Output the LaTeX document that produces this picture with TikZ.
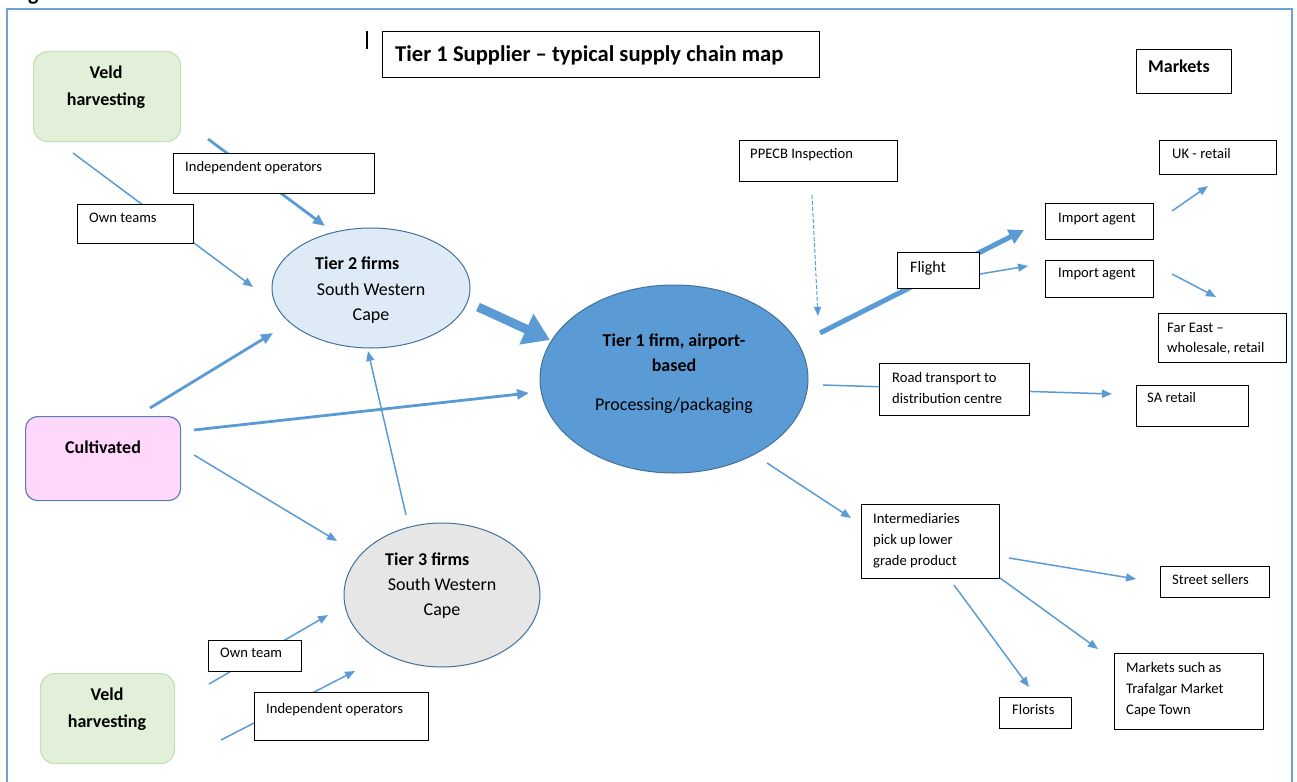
\documentclass[tikz,border=0pt]{standalone}
\usepackage{fontspec}
\setmainfont{Carlito}
\usetikzlibrary{arrows.meta,shapes.geometric}
\definecolor{arrblue}{HTML}{5B9BD5}
\definecolor{framec}{HTML}{6AA2DA}
\definecolor{ellborder}{HTML}{41719C}
\definecolor{tTwofill}{HTML}{DEEBF7}
\definecolor{tThreefill}{HTML}{E7E6E6}
\definecolor{tOnefill}{HTML}{5B9BD5}
\definecolor{veldfill}{HTML}{E2EFD9}
\definecolor{veldborder}{HTML}{C5E0B4}
\definecolor{cultfill}{HTML}{FFD7FA}
\definecolor{cultborder}{HTML}{5B7DB1}
\newcommand{\drawbox}[6][]{\node[box,#1,anchor=north west,minimum width={#5-#3},minimum height={#6-#4}] (#2) at (#3,#4) {};}
\begin{document}
\begin{tikzpicture}[x=1pt,y=-1pt,
  box/.style={draw=black,line width=1.3pt,fill=white,inner sep=0pt},
  rbox/.style={line width=1.2pt,rounded corners=14pt},
  ell/.style={ellipse,draw=ellborder,line width=1pt,inner sep=0pt},
  txt/.style={inner sep=0pt,align=left,anchor=north west,font=\fontsize{14.6}{21}\selectfont},
  midb/.style={inner sep=0pt,align=center,font=\bfseries\fontsize{18}{27}\selectfont},
  midr/.style={inner sep=0pt,align=center,font=\fontsize{18}{25}\selectfont},
  thin/.style={draw=arrblue,line width=1.5pt,-{Triangle[length=10pt,width=8pt]}},
  medium/.style={draw=arrblue,line width=2.8pt,-{Triangle[length=12pt,width=10pt]}},
  heavy/.style={draw=arrblue,line width=5pt,-{Triangle[length=15pt,width=15pt]}},
  huge/.style={draw=arrblue,line width=9pt,-{Triangle[length=26pt,width=32pt]}},
  dashedarr/.style={draw=arrblue,line width=1pt,dash pattern=on 4pt off 2pt,-{Triangle[length=9pt,width=7pt]}}
]
\useasboundingbox (0,0) rectangle (1297,781);
% cropped caption fragment and frame
\node[inner sep=0pt,anchor=base west,font=\bfseries\fontsize{22}{26}\selectfont] (gfrag) at (28,0.5) {g};
\draw[framec,line width=2pt] (7,9) rectangle (1292,800);
\draw[line width=1.2pt] (367,31) -- (367,49);

% connector end points
\coordinate (a1s) at (73,153);   \coordinate (a1e) at (253,287);
\coordinate (a2s) at (208,139);  \coordinate (a2e) at (325,226);
\coordinate (a3s) at (150,408);  \coordinate (a3e) at (273,333);
\coordinate (a4s) at (194,430);  \coordinate (a4e) at (529,393);
\coordinate (a5s) at (194,455);  \coordinate (a5e) at (337,541);
\coordinate (a6s) at (406,515);  \coordinate (a6e) at (368,351);
\coordinate (a7s) at (478,307);  \coordinate (a7e) at (550,340);
\coordinate (a8s) at (209,684);  \coordinate (a8e) at (328,615);
\coordinate (a9s) at (221,740);  \coordinate (a9e) at (355,671);
\coordinate (a10s) at (812,195); \coordinate (a10e) at (818,316);
\coordinate (a11s) at (820,333); \coordinate (a11e) at (1024,230);
\coordinate (a12s) at (980,274); \coordinate (a12e) at (1028,266);
\coordinate (a13s) at (1172,211); \coordinate (a13e) at (1208,186);
\coordinate (a14s) at (1172,274); \coordinate (a14e) at (1216,297);
\coordinate (a15s) at (823,385); \coordinate (a15e) at (1112,394);
\coordinate (a16s) at (767,463); \coordinate (a16e) at (851,518);
\coordinate (a17s) at (1009,558); \coordinate (a17e) at (1136,579);
\coordinate (a18s) at (1000,578); \coordinate (a18e) at (1098,649);
\coordinate (a19s) at (954,585); \coordinate (a19e) at (1029,687);

% connectors (drawn below the boxes)
\draw[thin] (a1s) -- (a1e);
\draw[medium] (a2s) -- (a2e);
\draw[medium] (a3s) -- (a3e);
\draw[medium] (a4s) -- (a4e);
\draw[thin] (a5s) -- (a5e);
\draw[huge] (a7s) -- (a7e);
\draw[thin] (a8s) -- (a8e);
\draw[thin] (a9s) -- (a9e);
\draw[dashedarr] (a10s) -- (a10e);
\draw[heavy] (a11s) -- (a11e);
\draw[thin] (a12s) -- (a12e);
\draw[thin] (a13s) -- (a13e);
\draw[thin] (a14s) -- (a14e);
\draw[thin] (a15s) -- (a15e);
\draw[thin] (a16s) -- (a16e);
\draw[thin] (a17s) -- (a17e);
\draw[thin] (a18s) -- (a18e);
\draw[thin] (a19s) -- (a19e);

% ellipses
\node[ell,fill=tTwofill,minimum width=198,minimum height=120] (tier2) at (371,288) {};
\node[ell,fill=tThreefill,minimum width=196,minimum height=144] (tier3) at (442,595) {};
\node[ell,fill=tOnefill,minimum width=268,minimum height=188] (tier1) at (674,379) {};
\draw[thin] (a6s) -- (a6e);

% rounded source boxes
\drawbox[rbox,draw=veldborder,fill=veldfill]{veld1}{33}{51}{180}{141}
\drawbox[rbox,draw=veldborder,fill=veldfill]{veld2}{40}{673}{174}{763}
\drawbox[rbox,draw=cultborder,fill=cultfill,rounded corners=12pt]{cult}{25}{416}{180}{500}

% rectangular boxes
\drawbox{title}{382}{31}{819}{77}
\drawbox{markets}{1136}{49}{1231}{93}
\drawbox{uk}{1159}{140}{1276}{174}
\drawbox{ppecb}{739}{140}{897}{181}
\drawbox{impa}{1045}{203}{1153}{239}
\drawbox{impb}{1045}{260}{1153}{297}
\drawbox{flight}{897}{252}{979}{288}
\drawbox{fareast}{1158}{313}{1286}{362}
\drawbox{road}{879}{363}{1029}{415}
\drawbox{saretail}{1136}{385}{1248}{426}
\drawbox{interm}{861}{504}{999}{578}
\drawbox{street}{1160}{566}{1269}{597}
\drawbox{florists}{999}{697}{1071}{728}
\drawbox{mktsuch}{1114}{653}{1263}{729}
\drawbox{indopa}{173}{153}{374}{193}
\drawbox{ownteams}{77}{204}{193}{243}
\drawbox{ownteam}{208}{640}{301}{671}
\drawbox{indopb}{254}{692}{428}{740}

% texts
\node[txt,font=\bfseries\fontsize{22.6}{27}\selectfont] (title-t) at (395,45) {Tier 1 Supplier -- typical supply chain map};
\node[txt,font=\bfseries\fontsize{18}{22}\selectfont] (markets-t) at (1148,60) {Markets};
\node[txt] (uk-t) at (1172,148) {UK - retail};
\node[txt] (ppecb-t) at (750,148) {PPECB Inspection};
\node[txt] (impa-t) at (1058,213) {Import agent};
\node[txt] (impb-t) at (1058,268) {Import agent};
\node[txt,font=\fontsize{16}{20}\selectfont] (flight-t) at (910,261) {Flight};
\node[txt,font=\fontsize{14.6}{20}\selectfont] (fareast-t) at (1167,323) {Far East --\\wholesale, retail};
\node[txt] (road-t) at (892,372) {Road transport to\\distribution centre};
\node[txt] (saretail-t) at (1147,392) {SA retail};
\node[txt] (interm-t) at (873,513) {Intermediaries\\pick up lower\\grade product};
\node[txt] (street-t) at (1172,574) {Street sellers};
\node[txt] (florists-t) at (1012,704) {Florists};
\node[txt] (mktsuch-t) at (1126,662) {Markets such as\\Trafalgar Market\\Cape Town};
\node[txt] (indopa-t) at (185,161) {Independent operators};
\node[txt] (ownteams-t) at (89,213) {Own teams};
\node[txt] (ownteam-t) at (220,648) {Own team};
\node[txt] (indopb-t) at (266,703) {Independent operators};

\node[midb] (veld1-t) at (106,87.5) {Veld\\harvesting};
\node[midb] (veld2-t) at (107,709.5) {Veld\\harvesting};
\node[midb] (cult-t) at (103,447) {Cultivated};

\node[midb,anchor=north west] (tier2-a) at (315,257) {Tier 2 firms};
\node[midr] (tier2-b) at (371,303) {South Western\\Cape};
\node[midb,anchor=north west] (tier3-a) at (385,553) {Tier 3 firms};
\node[midr] (tier3-b) at (442,598.5) {South Western\\Cape};
\node[midb,font=\bfseries\fontsize{18}{25}\selectfont] (tier1-a) at (674,352.5) {Tier 1 firm, airport-\\based};
\node[midr] (tier1-b) at (674,406) {Processing/packaging};
\end{tikzpicture}
\end{document}
